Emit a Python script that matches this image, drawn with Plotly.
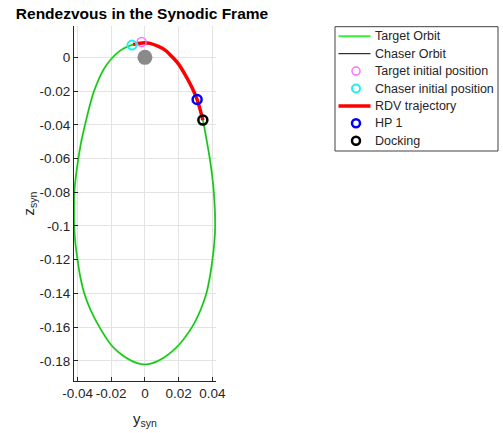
import plotly.graph_objects as go

# Target orbit (y_syn, z_syn), clockwise from chaser start
orbit_y = [-0.0079, -0.0040, 0.0000, 0.0030, 0.0080, 0.0120, 0.0160, 0.0200, 0.0240,
           0.0275, 0.0310, 0.0344, 0.0368, 0.0385, 0.0399, 0.0409, 0.0415, 0.0417,
           0.0412, 0.0401, 0.0386, 0.0365, 0.0330, 0.0280, 0.0190,
           0.0080, 0.0000, -0.0080, -0.0190, -0.0270, -0.0322,
           -0.0360, -0.0384, -0.0400, -0.0413, -0.0420, -0.0421, -0.0419, -0.0409,
           -0.0395, -0.0378, -0.0356, -0.0331, -0.0302, -0.0247, -0.0202, -0.0148,
           -0.0079]
orbit_z = [0.0073, 0.0082, 0.0086, 0.0083, 0.0065, 0.0043, 0.0005, -0.0040, -0.0105,
           -0.0170, -0.0250, -0.0372, -0.0500, -0.0600, -0.0700, -0.0800, -0.0900, -0.1000,
           -0.1100, -0.1200, -0.1300, -0.1400, -0.1500, -0.1600, -0.1718,
           -0.1800, -0.1822, -0.1800, -0.1718, -0.1600, -0.1500,
           -0.1400, -0.1300, -0.1200, -0.1100, -0.1000, -0.0900, -0.0800, -0.0700,
           -0.0600, -0.0500, -0.0402, -0.0300, -0.0200, -0.0075, -0.0012, 0.0039,
           0.0073]

chaser_y = orbit_y
chaser_z = orbit_z

# RDV trajectory (chaser start -> docking)
rdv_y = [-0.0070, -0.0040, 0.0000, 0.0030, 0.0080, 0.0120, 0.0160, 0.0200, 0.0240, 0.0275, 0.0310, 0.0344]
rdv_z = [0.0076, 0.0082, 0.0086, 0.0083, 0.0065, 0.0043, 0.0005, -0.0040, -0.0105, -0.0170, -0.0250, -0.0372]

target_init = (-0.0020, 0.0091)
chaser_init = (-0.0077, 0.0073)
hp1 = (0.0310, -0.0250)
docking = (0.0344, -0.0372)
body = (0.0, 0.0)

x_ticks = [-0.04, -0.02, 0, 0.02, 0.04]
x_labels = ["-0.04", "-0.02", "0", "0.02", "0.04"]
y_ticks = [0, -0.02, -0.04, -0.06, -0.08, -0.1, -0.12, -0.14, -0.16, -0.18]
y_labels = ["0", "-0.02", "-0.04", "-0.06", "-0.08", "-0.1", "-0.12", "-0.14", "-0.16", "-0.18"]

legend_names = ["Target Orbit", "Chaser Orbit", "Target initial position",
                "Chaser initial position", "RDV trajectory", "HP 1", "Docking"]

FONT = "Arial, Liberation Sans, sans-serif"
GREEN = "#3aee3a"
MAGENTA = "#ff70ff"
CYAN = "#22f0f0"

fig = go.Figure()
fig.add_trace(go.Scatter(x=[body[0]], y=[body[1]], mode="markers",
                         marker=dict(size=15, color="#8a8a8a", line=dict(width=0))))
fig.add_trace(go.Scatter(x=orbit_y, y=orbit_z, mode="lines",
                         line=dict(color=GREEN, width=2, shape="spline", smoothing=0.9)))
fig.add_trace(go.Scatter(x=chaser_y, y=chaser_z, mode="lines", opacity=0.7,
                         line=dict(color="#000000", width=0.4, shape="spline", smoothing=0.9)))
fig.add_trace(go.Scatter(x=rdv_y, y=rdv_z, mode="lines",
                         line=dict(color="#ff0000", width=3.5, shape="spline", smoothing=0.9)))
fig.add_trace(go.Scatter(x=[target_init[0]], y=[target_init[1]], mode="markers",
                         marker=dict(symbol="circle-open", size=9, color=MAGENTA, line=dict(width=1.5))))
fig.add_trace(go.Scatter(x=[chaser_init[0]], y=[chaser_init[1]], mode="markers",
                         marker=dict(symbol="circle-open", size=9, color=CYAN, line=dict(width=2))))
fig.add_trace(go.Scatter(x=[hp1[0]], y=[hp1[1]], mode="markers",
                         marker=dict(symbol="circle-open", size=9, color="#0000ff", line=dict(width=2.5))))
fig.add_trace(go.Scatter(x=[docking[0]], y=[docking[1]], mode="markers",
                         marker=dict(symbol="circle-open", size=9, color="#000000", line=dict(width=2.5))))

# Manual legend (MATLAB-like compact spacing), pixel -> paper conversion
L, R, T, B = 74, 216, 26, 381
def px(x):
    return (x - L) / (R - L)
def py(y):
    return (B - y) / (B - T)

shapes = [dict(type="rect", xref="paper", yref="paper", x0=px(335), x1=px(498),
               y0=py(151), y1=py(26.7), line=dict(color="#404040", width=1),
               fillcolor="white", layer="above")]
annotations = []
styles = [("line", GREEN, 2), ("line", "#000000", 1), ("circle", MAGENTA, 1.5),
          ("circle", CYAN, 2), ("line", "#ff0000", 3.5), ("circle", "#0000ff", 2.5),
          ("circle", "#000000", 2.5)]
for i, (name, (kind, col, w)) in enumerate(zip(legend_names, styles)):
    yc = 36.3 + i * 17.4
    if kind == "line":
        shapes.append(dict(type="line", xref="paper", yref="paper", x0=px(338.5), x1=px(370.5),
                           y0=py(yc), y1=py(yc), line=dict(color=col, width=w), layer="above"))
    else:
        shapes.append(dict(type="circle", xref="paper", yref="paper", xsizemode="pixel",
                           ysizemode="pixel", xanchor=px(356), yanchor=py(yc),
                           x0=-4, x1=4, y0=-4, y1=4, line=dict(color=col, width=w), layer="above"))
    annotations.append(dict(text=name, xref="paper", yref="paper", x=px(373), y=py(yc),
                            xanchor="left", yanchor="middle", showarrow=False,
                            font=dict(size=12.5, color="#262626")))

fig.update_layout(
    width=503, height=433,
    margin=dict(l=L, r=503 - R, t=T, b=433 - B),
    paper_bgcolor="white", plot_bgcolor="white",
    font=dict(family=FONT, color="#262626"),
    title=dict(text="<b>Rendezvous in the Synodic Frame</b>", x=142 / 503, xanchor="center",
               y=1 - 14 / 433, yanchor="middle", font=dict(size=15.5, color="#000000")),
    showlegend=False,
    shapes=shapes, annotations=annotations,
)
fig.update_xaxes(range=[-0.0421, 0.0422], tickvals=x_ticks, ticktext=x_labels, tickangle=0,
                 automargin=False, showgrid=True, gridcolor="#e3e3e3", gridwidth=1, zeroline=False,
                 showline=True, linecolor="#262626", linewidth=1,
                 ticks="inside", ticklen=4, tickcolor="#262626", tickfont=dict(size=13.5),
                 title=dict(text="y<sub>syn</sub>", font=dict(size=15), standoff=13))
fig.update_yaxes(range=[-0.192, 0.0186], tickvals=y_ticks, ticktext=y_labels,
                 automargin=False, showgrid=True, gridcolor="#e3e3e3", gridwidth=1, zeroline=False,
                 showline=True, linecolor="#262626", linewidth=1,
                 ticks="inside", ticklen=4, tickcolor="#262626", tickfont=dict(size=13.5),
                 title=dict(text="z<sub>syn</sub>", font=dict(size=15), standoff=1))

fig.write_html("out.html", config={"displayModeBar": False},
               post_script="document.body.style.margin='0';")
